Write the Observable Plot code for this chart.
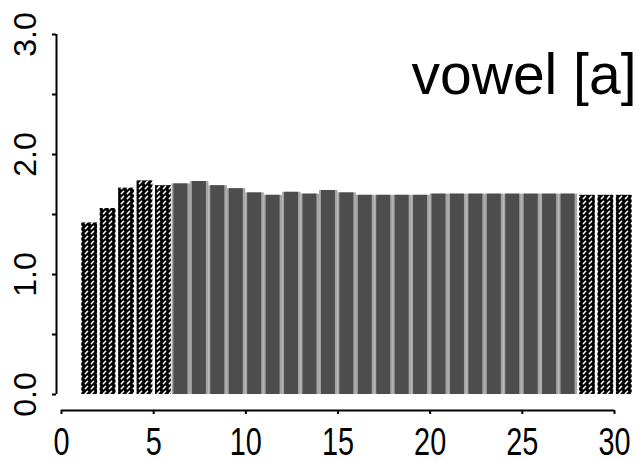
<!DOCTYPE html>
<html>
<head>
<meta charset="utf-8">
<script src="https://cdn.jsdelivr.net/npm/d3@7"></script>
<script src="https://cdn.jsdelivr.net/npm/@observablehq/plot@0.6"></script>
<style>
  html, body { margin: 0; padding: 0; background: #fff; }
  #chart svg { display: block; }
</style>
</head>
<body>
<!-- shared fills: dotted screen for the outer frames, soft focus for the shaded block -->
<svg width="0" height="0" style="position:absolute">
  <defs>
    <pattern id="screen" width="6" height="5" patternUnits="userSpaceOnUse">
      <rect width="6" height="5" fill="#000"/>
      <path d="M1.3 3.8 L3.6 1.3" stroke="#fff" stroke-width="1.5" stroke-linecap="round"/>
    </pattern>
    <filter id="soft" x="-5%" y="-5%" width="110%" height="110%">
      <feGaussianBlur stdDeviation="0.9"/>
    </filter>
  </defs>
</svg>
<div id="chart"></div>
<script>
// frame numbers and the measured value of each frame
const frames = [1, 2, 3, 4, 5, 6, 7, 8, 9, 10, 11, 12, 13, 14, 15,
                16, 17, 18, 19, 20, 21, 22, 23, 24, 25, 26, 27, 28, 29, 30];
const values = [1.43, 1.55, 1.72, 1.78, 1.74, 1.755, 1.775, 1.74, 1.715, 1.68,
                1.66, 1.685, 1.67, 1.70, 1.68, 1.66, 1.66, 1.66, 1.66, 1.67,
                1.67, 1.67, 1.67, 1.67, 1.67, 1.67, 1.67, 1.66, 1.66, 1.66];
// frames inside the steady part of the vowel (drawn shaded)
const steadyFirst = 6;
const steadyLast = 27;

const xTicks = [0, 5, 10, 15, 20, 25, 30];
const yTicks = [0, 0.5, 1, 1.5, 2, 2.5, 3];
const yLabels = [0, 1, 2, 3];
const title = "vowel [a]";

const rows = frames.map((f, i) => ({frame: f, value: values[i], steady: f >= steadyFirst && f <= steadyLast}));
const steady = rows.filter(d => d.steady);
const outer = rows.filter(d => !d.steady);

// the x axis sits a little below zero, the y axis a little left of frame 0
const xFloor = -0.1333;
const yWall = -0.27;

const chart = Plot.plot({
  width: 640,
  height: 462,
  marginLeft: 56,
  marginRight: 26,
  marginTop: 34,
  marginBottom: 52,
  x: {domain: [yWall, 30], axis: null},
  y: {domain: [xFloor, 3], axis: null},
  style: {
    fontFamily: "'Liberation Sans', Arial, sans-serif",
    background: "#fff",
    color: "#000"
  },
  marks: [
    Plot.rect(steady, {x1: d => d.frame, x2: d => d.frame + 1, y1: 0, y2: "value", fill: "#a6a6a6", ariaLabel: "steady-bed"}),
    Plot.rect(steady, {x1: d => d.frame + 0.1, x2: d => d.frame + 0.86, y1: 0, y2: "value", fill: "#4d4d4d", ariaLabel: "steady-bars"}),
    Plot.rect(outer, {x1: d => d.frame + 0.1, x2: d => d.frame + 0.96, y1: 0, y2: "value", fill: "url(#screen)"}),
    Plot.ruleX([yWall], {y1: yTicks[0], y2: yTicks[yTicks.length - 1], strokeWidth: 2}),
    Plot.axisY({ticks: yTicks, tickSize: 4, tickFormat: () => "", label: null, strokeWidth: 2}),
    Plot.text(yLabels, {x: yWall, y: d => d, text: d => d.toFixed(1), rotate: -90, dx: -31, fontSize: 32,
      textAnchor: "middle", lineAnchor: "middle", ariaLabel: "y-labels"}),
    Plot.ruleY([xFloor], {x1: xTicks[0], x2: xTicks[xTicks.length - 1], strokeWidth: 2}),
    Plot.axisX({ticks: xTicks, tickSize: 4, tickPadding: 14, fontSize: 38, label: null, strokeWidth: 2}),
    Plot.text([title], {frameAnchor: "top-right", dx: 22, dy: 59, textAnchor: "end", lineAnchor: "bottom",
      fontSize: 57})
  ]
});

chart.querySelectorAll('g[aria-label="steady-bed"], g[aria-label="steady-bars"]')
  .forEach(g => g.setAttribute("filter", "url(#soft)"));

// narrow the numerals along their reading direction
function narrow(selector, k) {
  chart.querySelectorAll(selector).forEach(t => {
    const tr = t.getAttribute("transform");
    if (tr) {
      t.setAttribute("transform", `${tr} scale(${k},1)`);
    } else {
      const x = +t.getAttribute("x") || 0, y = +t.getAttribute("y") || 0;
      t.removeAttribute("x"); t.removeAttribute("y");
      t.setAttribute("transform", `translate(${x},${y}) scale(${k},1)`);
    }
  });
}
narrow('g[aria-label="x-axis tick label"] text', 0.76);
narrow('g[aria-label="y-labels"] text', 0.88);

document.getElementById("chart").appendChild(chart);
</script>
</body>
</html>
